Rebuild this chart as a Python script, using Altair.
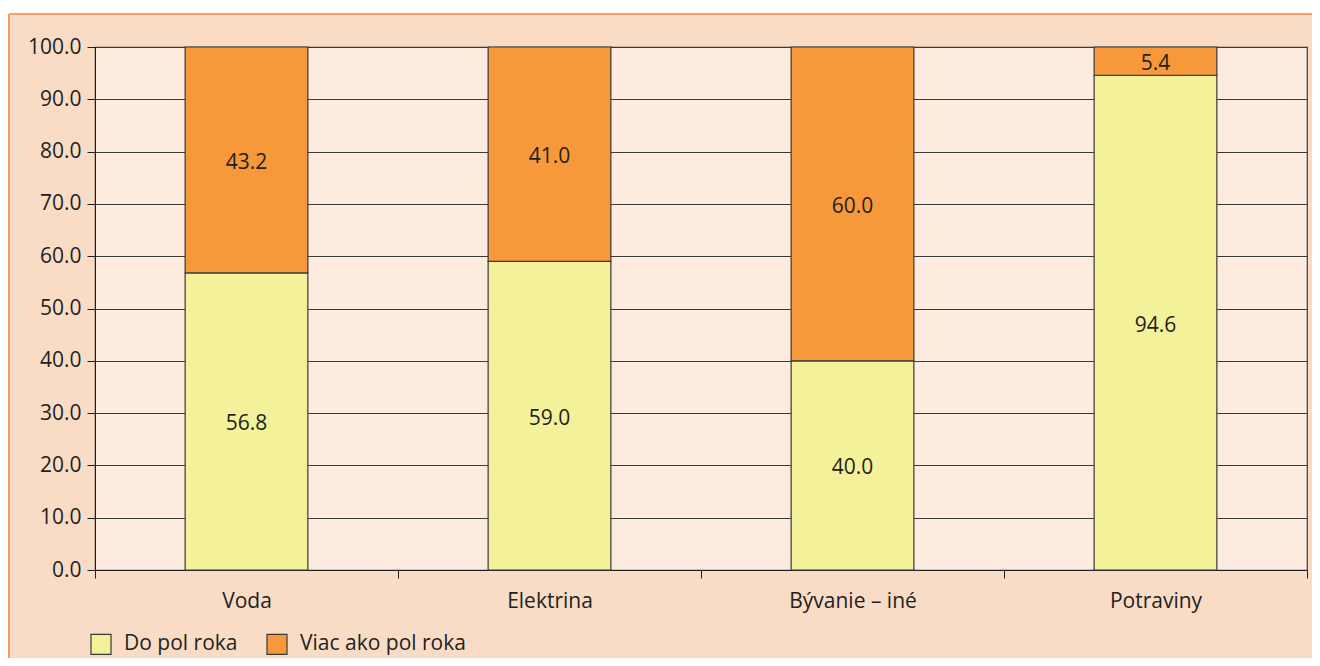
import altair as alt
import pandas as pd

categories = ["Voda", "Elektrina", "Bývanie – iné", "Potraviny"]
series = ["Do pol roka", "Viac ako pol roka"]
do_pol_roka = [56.8, 59.0, 40.0, 94.6]
viac_ako_pol_roka = [43.2, 41.0, 60.0, 5.4]

rows = []
for i, c in enumerate(categories):
    rows.append({"cat": c, "series": series[0], "ord": 0, "val": do_pol_roka[i]})
    rows.append({"cat": c, "series": series[1], "ord": 1, "val": viac_ako_pol_roka[i]})
df = pd.DataFrame(rows)

FONT = "Open Sans"
FS = 21
DARK = "#231F20"
W, H = 1212, 523

x_enc = alt.X("cat:N", sort=categories, title=None,
              scale=alt.Scale(paddingInner=0, paddingOuter=0),
              axis=alt.Axis(labelAngle=0, tickBand="extent", tickSize=8,
                            tickColor=DARK, domainColor=DARK, labelPadding=12,
                            labelFontSize=FS, labelColor=DARK, labelFont=FONT))

base = alt.Chart(df).transform_stack(
    stack="val", groupby=["cat"], as_=["y0", "y1"],
    sort=[alt.SortField("ord", order="ascending")]
).transform_calculate(mid="(datum.y0 + datum.y1) / 2")

bars = base.mark_bar(width=alt.RelativeBandSize(0.405), stroke="#3a3a3a",
                     strokeWidth=1.2).encode(
    x=x_enc,
    y=alt.Y("y0:Q", title=None,
            scale=alt.Scale(domain=[0, 100], nice=False),
            axis=alt.Axis(values=list(range(0, 101, 10)), format=".1f",
                          tickSize=8, tickColor=DARK, labelPadding=6,
                          labelFontSize=FS, labelColor=DARK, labelFont=FONT,
                          grid=True, gridColor="#3a3a3a", gridWidth=1.2,
                          domainColor=DARK)),
    y2="y1:Q",
    color=alt.Color("series:N", sort=series,
                    scale=alt.Scale(domain=series, range=["#F3F19A", "#F7993A"]),
                    legend=alt.Legend(title=None, orient="none", direction="horizontal",
                                      legendX=-5, legendY=586, labelLimit=0,
                                      symbolType="square", symbolSize=400,
                                      symbolStrokeColor="#3a3a3a", symbolStrokeWidth=1.2,
                                      labelFontSize=FS, labelFont=FONT, labelColor=DARK,
                                      labelOffset=12, columnPadding=26)),
)

labels = base.mark_text(fontSize=FS, font=FONT, color=DARK, dy=3).encode(
    x=alt.X("cat:N", sort=categories),
    y=alt.Y("mid:Q"),
    text=alt.Text("val:Q", format=".1f"),
)

white_strip = alt.Chart(pd.DataFrame({"a": [0]})).mark_rect(color="white").encode(
    x=alt.value(-90), x2=alt.value(W + 10), y=alt.value(-40), y2=alt.value(-33))
top_line = alt.Chart(pd.DataFrame({"a": [0]})).mark_rule(color="#F08A3E", strokeWidth=1.5).encode(
    x=alt.value(-86), x2=alt.value(W + 10), y=alt.value(-33))
left_line = alt.Chart(pd.DataFrame({"a": [0]})).mark_rule(color="#F08A3E", strokeWidth=1.5).encode(
    x=alt.value(-86), y=alt.value(-33), y2=alt.value(H + 100))

chart = alt.layer(white_strip, top_line, left_line, bars, labels).properties(
    width=W, height=H,
    autosize=alt.AutoSizeParams(type="none"),
    padding={"left": 87, "top": 39, "right": 5, "bottom": 88},
    background="#F9DCC6",
).configure_view(fill="#FDEBE0", stroke="#3a3a3a", strokeWidth=1.2)

chart.save("out.html", embed_options={"renderer": "svg", "actions": False})
